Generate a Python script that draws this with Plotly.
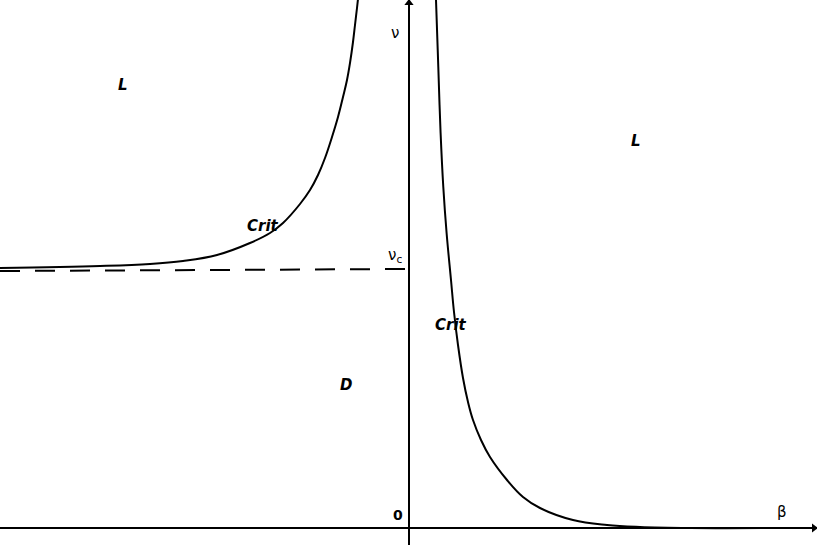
import plotly.graph_objects as go

# Left critical curve (beta < 0)
left_beta = [-4.09, -3.09, -2.59, -2.26, -1.92, -1.59, -1.39, -1.26, -1.09, -0.99, -0.91, -0.84,
             -0.77, -0.71, -0.66, -0.62, -0.59, -0.56, -0.54, -0.52, -0.50]
left_nu = [2.60, 2.62, 2.64, 2.67, 2.73, 2.85, 2.95, 3.05, 3.24, 3.38, 3.53, 3.70,
           3.91, 4.11, 4.31, 4.48, 4.65, 4.86, 5.03, 5.20, 5.38]

# Right critical curve (beta > 0)
right_beta = [0.265, 0.27, 0.293, 0.316, 0.343, 0.376, 0.42, 0.45, 0.49, 0.54, 0.59, 0.64, 0.72,
              0.81, 0.98, 1.14, 1.31, 1.64, 1.98, 2.31, 2.81, 3.71]
right_nu = [5.38, 5.28, 4.61, 3.95, 3.41, 2.95, 2.48, 2.16, 1.83, 1.50, 1.26, 1.08, 0.88,
            0.71, 0.48, 0.31, 0.20, 0.08, 0.03, 0.01, 0.0, 0.0]

# Dashed nu_c line
nuc_beta = [-4.09, 0.0]
nuc_nu = [2.57, 2.59]

x_range = [-4.09, 4.08]
y_range = [-0.17, 5.28]

region_labels = ["L", "L", "Crit", "Crit", "D"]
region_x = [-2.86, 2.27, -1.46, 0.42, -0.63]
region_y = [4.43, 3.87, 3.02, 2.03, 1.43]

fig = go.Figure()
line_style = dict(color="black", width=2, shape="spline", smoothing=1.1)
fig.add_trace(go.Scatter(x=left_beta, y=left_nu, mode="lines", line=line_style,
                         showlegend=False, hoverinfo="skip"))
fig.add_trace(go.Scatter(x=right_beta, y=right_nu, mode="lines", line=line_style,
                         showlegend=False, hoverinfo="skip"))
fig.add_trace(go.Scatter(x=nuc_beta, y=nuc_nu, mode="lines",
                         line=dict(color="black", width=2, dash="20px,15px"),
                         showlegend=False, hoverinfo="skip"))

# axes lines
fig.add_trace(go.Scatter(x=[x_range[0], x_range[1]], y=[0, 0], mode="lines",
                         line=dict(color="black", width=2), showlegend=False, hoverinfo="skip"))
fig.add_trace(go.Scatter(x=[0, 0], y=[y_range[0], y_range[1]], mode="lines",
                         line=dict(color="black", width=2), showlegend=False, hoverinfo="skip"))
# arrowheads
fig.add_trace(go.Scatter(x=[x_range[1] - 0.03], y=[0], mode="markers",
                         marker=dict(symbol="triangle-right", size=8, color="black"),
                         showlegend=False, hoverinfo="skip", cliponaxis=False))
fig.add_trace(go.Scatter(x=[0], y=[y_range[1] - 0.03], mode="markers",
                         marker=dict(symbol="triangle-up", size=8, color="black"),
                         showlegend=False, hoverinfo="skip", cliponaxis=False))

annotations = []
lab_font = dict(family="DejaVu Sans", size=15, color="black")
for t, x, y in zip(region_labels, region_x, region_y):
    annotations.append(dict(x=x, y=y, xref="x", yref="y", text="<b><i>%s</i></b>" % t,
                            showarrow=False, font=lab_font))

annotations.append(dict(x=-0.14, y=4.95, xref="x", yref="y", text="ν", showarrow=False,
                        font=dict(family="DejaVu Sans", size=15, color="black")))
annotations.append(dict(x=-0.14, y=2.73, xref="x", yref="y", text="ν<sub>c</sub>", showarrow=False,
                        font=dict(family="DejaVu Sans", size=15, color="black")))
annotations.append(dict(x=-0.11, y=0.13, xref="x", yref="y", text="<b>0</b>", showarrow=False,
                        font=dict(family="DejaVu Sans", size=14, color="black")))
annotations.append(dict(x=3.73, y=0.16, xref="x", yref="y", text="β", showarrow=False,
                        font=dict(family="DejaVu Sans", size=15, color="black")))

fig.update_layout(
    width=817, height=545,
    margin=dict(l=0, r=0, t=0, b=0, pad=0, autoexpand=False),
    paper_bgcolor="white", plot_bgcolor="white",
    xaxis=dict(range=x_range, visible=False, showgrid=False, zeroline=False, fixedrange=True),
    yaxis=dict(range=y_range, visible=False, showgrid=False, zeroline=False, fixedrange=True),
    annotations=annotations,
    showlegend=False,
)

fig.write_html("out.html", config={"displayModeBar": False},
               post_script="document.body.style.margin='0px';document.body.style.overflow='hidden';")
